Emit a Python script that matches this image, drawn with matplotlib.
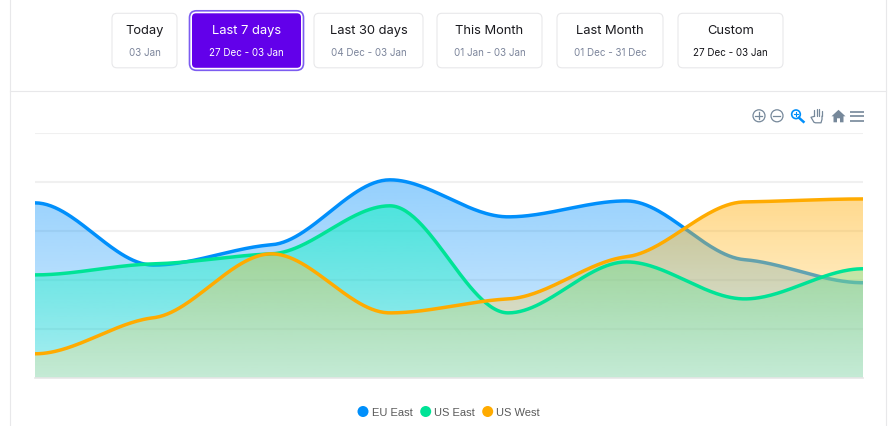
"""Date range buttons above a smoothed three-series area chart."""

import matplotlib

matplotlib.use("Agg")
import matplotlib.pyplot as plt
import numpy as np
from matplotlib.patches import Circle, FancyBboxPatch, Polygon

W, H = 895, 427

BORDER = "#e8e8ea"
PURPLE = "#6200ea"
RING = "#7c5cf0"
ICON = "#76889a"
ACTIVE = "#008ffb"

# button labels
titles = ["Today", "Last 7 days", "Last 30 days", "This Month", "Last Month", "Custom"]
subtitles = ["03 Jan", "27 Dec - 03 Jan", "04 Dec - 03 Jan", "01 Jan - 03 Jan",
             "01 Dec - 31 Dec", "27 Dec - 03 Jan"]
button_x0 = [112, 192, 314, 437, 557, 678]
button_x1 = [177, 301, 423, 542, 663, 783]

# series
days = list(range(8))
eu_east = [71.4, 46.0, 54.3, 80.8, 65.7, 72.2, 48.2, 38.8]
us_east = [42.0, 46.5, 50.6, 70.2, 26.5, 47.3, 32.2, 44.5]
us_west = [9.8, 24.5, 50.6, 26.5, 32.2, 49.4, 71.8, 73.0]
y_ticks = [0, 20, 40, 60, 80, 100]

EU_COLOR = "#008ffb"
US_E_COLOR = "#00e396"
US_W_COLOR = "#ffab00"


def smooth(x, y, n=60, tension=0.3):
    # monotone cubic with damped tangents, gives the flat spots at each value
    x = np.asarray(x, float)
    y = np.asarray(y, float)
    h = np.diff(x)
    d = np.diff(y) / h
    m = np.zeros_like(y)
    for i in range(1, len(y) - 1):
        if d[i - 1] * d[i] > 0:
            m[i] = tension * 2 * d[i - 1] * d[i] / (d[i - 1] + d[i])
    xs, ys = [], []
    for i in range(len(h)):
        t = np.linspace(0, 1, n)
        ys.append((2 * t**3 - 3 * t**2 + 1) * y[i] + (t**3 - 2 * t**2 + t) * h[i] * m[i]
                  + (-2 * t**3 + 3 * t**2) * y[i + 1] + (t**3 - t**2) * h[i] * m[i + 1])
        xs.append(x[i] + t * h[i])
    return np.concatenate(xs), np.concatenate(ys)


def area(ax, x, y, c_top, c_bottom, a_top, a_bottom, zorder):
    # vertical gradient, from the peak of the series to the baseline
    sx, sy = smooth(x, y)
    top = sy.max()
    img = np.zeros((256, 1, 4))
    for k in range(3):
        img[:, 0, k] = np.linspace(c_top[k], c_bottom[k], 256) / 255
    img[:, 0, 3] = np.linspace(a_top, a_bottom, 256)
    im = ax.imshow(img, extent=(x[0], x[-1], 0, top), origin="upper", aspect="auto",
                   interpolation="bilinear", zorder=zorder)
    poly = Polygon(np.column_stack([np.r_[sx, sx[-1], sx[0]], np.r_[sy, 0, 0]]),
                   closed=True, transform=ax.transData, fc="none", ec="none")
    ax.add_patch(poly)
    im.set_clip_path(poly)
    return sx, sy


fig = plt.figure(figsize=(W / 100, H / 100), dpi=100)
fig.patch.set_facecolor("white")
plt.rcParams["font.family"] = ["Inter", "DejaVu Sans"]

ui = fig.add_axes([0, 0, 1, 1])
ui.set_xlim(0, W)
ui.set_ylim(H - 0.8, -0.8)
ui.axis("off")

# panel frame
ui.plot([10, 10], [-1, H], color=BORDER, lw=0.8)
ui.plot([886.5, 886.5], [-1, H], color=BORDER, lw=0.8)
ui.plot([10, 886.5], [91, 91], color=BORDER, lw=0.8)

# date buttons
for i, (t, s, x0, x1) in enumerate(zip(titles, subtitles, button_x0, button_x1)):
    y0, y1 = 13.5, 68
    mid = (x0 + x1) / 2
    if i == 1:
        ui.add_patch(FancyBboxPatch((x0 - 2.5, y0 - 2.5), x1 - x0 + 5, y1 - y0 + 5,
                                    boxstyle="round,pad=0,rounding_size=7",
                                    fc="white", ec=RING, lw=1.2))
        ui.add_patch(FancyBboxPatch((x0, y0), x1 - x0, y1 - y0,
                                    boxstyle="round,pad=0,rounding_size=4",
                                    fc=PURPLE, ec="none"))
    else:
        ui.add_patch(FancyBboxPatch((x0, y0), x1 - x0, y1 - y0,
                                    boxstyle="round,pad=0,rounding_size=5",
                                    fc="white", ec=BORDER, lw=0.8))
    title_c = "white" if i == 1 else "#1a1a1f"
    sub_c = "white" if i == 1 else ("#15151a" if i == 5 else "#7d869c")
    ui.text(mid, 30, t, ha="center", va="center", fontsize=9.3, color=title_c)
    ui.text(mid, 52.5, s, ha="center", va="center", fontsize=7.1, color=sub_c)

# toolbar icons
ui.add_patch(Circle((759, 116), 6, fc="none", ec=ICON, lw=0.9))
ui.plot([755.5, 762.5], [116, 116], color=ICON, lw=0.9)
ui.plot([759, 759], [112.5, 119.5], color=ICON, lw=0.9)
ui.add_patch(Circle((777, 116), 6, fc="none", ec=ICON, lw=0.9))
ui.plot([773.5, 780.5], [116, 116], color=ICON, lw=0.9)
ui.add_patch(Circle((796, 114.5), 4.3, fc="none", ec=ACTIVE, lw=1.2))
ui.plot([799, 803.5], [118, 122], color=ACTIVE, lw=1.8)
ui.plot([794, 798], [114.5, 114.5], color=ACTIVE, lw=0.8)
ui.plot([796, 796], [112.5, 116.5], color=ACTIVE, lw=0.8)
for fx, ftop in zip([814.5, 817, 819.5, 822], [110.5, 109, 109.5, 111.5]):
    ui.plot([fx, fx], [116.5, ftop], color=ICON, lw=0.9, solid_capstyle="round")
ui.plot([814.5, 811, 814, 815.5, 821, 822, 822], [116.5, 117.5, 122.5, 123, 123, 119.5, 116.5],
        color=ICON, lw=0.9)
ui.add_patch(Polygon([(831.5, 116.5), (838.5, 110), (845.5, 116.5), (843.5, 116.5), (843.5, 122.5),
                      (840, 122.5), (840, 118.5), (837, 118.5), (837, 122.5), (833.5, 122.5),
                      (833.5, 116.5)], closed=True, fc=ICON, ec="none"))
for yy in [111.8, 116.5, 121.2]:
    ui.plot([850, 864], [yy, yy], color=ICON, lw=1.2, solid_capstyle="butt")

# legend
for cx, tx, label, c in zip([363, 425.7, 487.7], [372, 434, 496],
                            ["EU East", "US East", "US West"],
                            [EU_COLOR, US_E_COLOR, US_W_COLOR]):
    ui.add_patch(Circle((cx, 411.7), 5.5, fc=c, ec="none"))
    ui.text(tx, 412, label, ha="left", va="center", fontsize=8,
            family="Liberation Sans", color="#5a5a5a")

# chart
ax = fig.add_axes([35 / W, 1 - 378.8 / H, 828 / W, 245 / H])
ax.patch.set_alpha(0)
ax.set_xlim(days[0], days[-1])
ax.set_ylim(0, 100)
ax.set_yticks(y_ticks)
ax.tick_params(left=False, bottom=False, labelleft=False, labelbottom=False)
ax.set_xticks([])
ax.grid(True, axis="y", color="#f0f0f0", lw=1.5, zorder=0)
ax.set_axisbelow(True)
for name, spine in ax.spines.items():
    spine.set_visible(False)

ex, ey = area(ax, days, eu_east, (0, 143, 251), (0, 143, 251), 0.42, 0.16, 1)
ax.plot(ex, ey, color=EU_COLOR, lw=2.5, zorder=2)
gx, gy = area(ax, days, us_east, (0, 245, 190), (0, 245, 190), 0.5, 0.2, 3)
wx, wy = area(ax, days, us_west, (255, 171, 0), (255, 228, 149), 0.445, 0.3, 4)
ax.plot(gx, gy, color=US_E_COLOR, lw=2.5, zorder=5)
ax.plot(wx, wy, color=US_W_COLOR, lw=2.5, zorder=6)
ax.axhline(0, color="#e6e6e6", lw=1.2, zorder=7, clip_on=False)
ax.set_xlim(days[0], days[-1])
ax.set_ylim(0, 100)

fig.savefig("out.png", dpi=100)
